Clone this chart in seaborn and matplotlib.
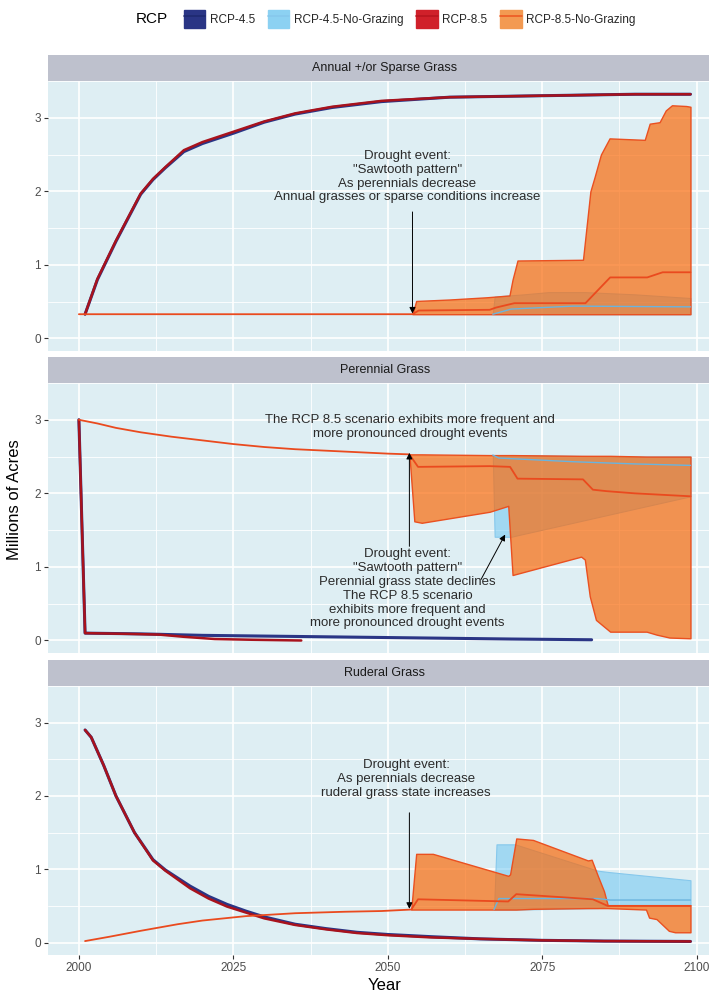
import numpy as np
import pandas as pd
import matplotlib
matplotlib.use('Agg')
import matplotlib.pyplot as plt
import seaborn as sns
from matplotlib.patches import Patch
from matplotlib.lines import Line2D
from matplotlib.ticker import MultipleLocator

# ---------------- data ----------------
# Panel 1: Annual +/or Sparse Grass
ANN_G_YEARS = [2001, 2003, 2006, 2008, 2010, 2012, 2014, 2017, 2020, 2025, 2030, 2035, 2041, 2049, 2060, 2075, 2090, 2099]
ANN_G85 = [0.33, 0.81, 1.33, 1.65, 1.97, 2.17, 2.33, 2.56, 2.67, 2.81, 2.95, 3.06, 3.15, 3.23, 3.28, 3.30, 3.32, 3.32]
ANN_G45 = [0.33, 0.80, 1.32, 1.64, 1.96, 2.16, 2.32, 2.54, 2.65, 2.79, 2.94, 3.05, 3.14, 3.22, 3.28, 3.30, 3.32, 3.32]
ANN_NG85_YEARS = [2000, 2054, 2055, 2066.5, 2067.5, 2070.5, 2082, 2086, 2092, 2094.5, 2099]
ANN_NG85 = [0.33, 0.33, 0.38, 0.39, 0.42, 0.48, 0.48, 0.83, 0.83, 0.90, 0.90]
ANN_NG85_RIB_YEARS = [2054, 2054.6, 2060, 2066, 2069.7, 2070.2, 2071, 2081.6, 2082.8, 2083.5, 2084.5,
                      2085.9, 2091.6, 2092.4, 2094, 2095, 2096, 2098.3, 2099]
ANN_NG85_LO = [0.33, 0.33, 0.33, 0.33, 0.33, 0.33, 0.33, 0.33, 0.33, 0.33, 0.33,
               0.33, 0.33, 0.33, 0.33, 0.33, 0.33, 0.33, 0.33]
ANN_NG85_HI = [0.33, 0.51, 0.53, 0.56, 0.585, 0.80, 1.06, 1.07, 2.00, 2.20, 2.50,
               2.72, 2.70, 2.92, 2.94, 3.10, 3.17, 3.16, 3.15]
ANN_NG45_YEARS = [2067, 2070, 2080, 2099]
ANN_NG45 = [0.33, 0.40, 0.44, 0.43]
ANN_NG45_RIB_YEARS = [2067, 2067.3, 2072, 2076, 2082, 2090, 2099]
ANN_NG45_LO = [0.33, 0.33, 0.33, 0.33, 0.33, 0.33, 0.33]
ANN_NG45_HI = [0.33, 0.57, 0.60, 0.63, 0.63, 0.60, 0.55]

# Panel 2: Perennial Grass
PER_G85_YEARS = [2000, 2001, 2008, 2013, 2017, 2022, 2028, 2036]
PER_G85 = [3.0, 0.10, 0.09, 0.08, 0.05, 0.02, 0.01, 0.0]
PER_G45_YEARS = [2000, 2001, 2010, 2020, 2030, 2040, 2050, 2060, 2070, 2083]
PER_G45 = [3.0, 0.10, 0.09, 0.07, 0.06, 0.05, 0.04, 0.03, 0.02, 0.01]
PER_NG85_YEARS = [2000, 2003, 2006, 2010, 2015, 2020, 2025, 2030, 2035, 2040, 2045, 2050, 2053.5,
                  2054.9, 2066.5, 2069.8, 2071, 2081.6, 2083.2, 2085.4, 2090, 2099]
PER_NG85 = [3.0, 2.95, 2.89, 2.83, 2.77, 2.72, 2.67, 2.63, 2.60, 2.58, 2.56, 2.54, 2.53,
            2.36, 2.37, 2.36, 2.20, 2.19, 2.05, 2.03, 2.00, 1.96]
PER_NG85_RIB_YEARS = [2053.5, 2054.3, 2055.5, 2066.5, 2069.5, 2070.2, 2081.3, 2081.9, 2082.7,
                      2083.7, 2086, 2091.9, 2093.5, 2095.6, 2099]
PER_NG85_LO = [2.53, 1.62, 1.60, 1.75, 1.83, 0.89, 1.14, 1.10, 0.60, 0.28, 0.12, 0.12, 0.08, 0.04, 0.03]
PER_NG85_HI = [2.53, 2.53, 2.53, 2.52, 2.52, 2.52, 2.51, 2.51, 2.51, 2.51, 2.51, 2.50, 2.50, 2.50, 2.50]
PER_NG45_YEARS = [2067, 2068, 2080, 2090, 2099]
PER_NG45 = [2.52, 2.48, 2.43, 2.40, 2.38]
PER_NG45_RIB_YEARS = [2067, 2067.3, 2070, 2071, 2080, 2090, 2099]
PER_NG45_LO = [2.52, 1.41, 1.41, 1.43, 1.60, 1.79, 1.96]
PER_NG45_HI = [2.52, 2.52, 2.52, 2.52, 2.51, 2.50, 2.50]

# Panel 3: Ruderal Grass
RUD_G_YEARS = [2001, 2002, 2004, 2006, 2009, 2012, 2014, 2016, 2018, 2021, 2024, 2027, 2030,
               2035, 2040, 2045, 2050, 2057, 2065, 2075, 2085, 2099]
RUD_G85 = [2.90, 2.80, 2.42, 2.00, 1.50, 1.12, 0.98, 0.86, 0.74, 0.60, 0.49, 0.41, 0.33,
           0.24, 0.18, 0.13, 0.10, 0.07, 0.05, 0.03, 0.02, 0.015]
RUD_G45 = [2.90, 2.80, 2.42, 2.00, 1.50, 1.13, 0.99, 0.88, 0.77, 0.63, 0.52, 0.43, 0.35,
           0.25, 0.19, 0.14, 0.11, 0.08, 0.05, 0.03, 0.02, 0.015]
RUD_NG85_YEARS = [2001, 2005, 2010, 2016, 2020, 2027, 2035, 2043, 2049, 2053.8, 2054.9,
                  2069.5, 2070.8, 2083.2, 2085.6, 2099]
RUD_NG85 = [0.02, 0.08, 0.16, 0.25, 0.30, 0.36, 0.40, 0.42, 0.43, 0.45, 0.59,
            0.56, 0.66, 0.59, 0.50, 0.50]
RUD_NG85_RIB_YEARS = [2053.8, 2054.6, 2057.3, 2069.5, 2069.8, 2070.8, 2073.5, 2082.4, 2083.0,
                      2084.0, 2085.0, 2085.6, 2091.8, 2092.3, 2093.5, 2095.5, 2096.5, 2099]
RUD_NG85_LO = [0.45, 0.45, 0.45, 0.45, 0.45, 0.45, 0.46, 0.47, 0.47,
               0.47, 0.47, 0.47, 0.45, 0.34, 0.32, 0.16, 0.14, 0.14]
RUD_NG85_HI = [0.45, 1.21, 1.21, 0.91, 0.93, 1.42, 1.40, 1.12, 1.13,
               0.91, 0.70, 0.51, 0.51, 0.51, 0.51, 0.51, 0.51, 0.51]
RUD_NG45_YEARS = [2067.2, 2068, 2084, 2086, 2099]
RUD_NG45 = [0.45, 0.60, 0.60, 0.58, 0.58]
RUD_NG45_RIB_YEARS = [2067.2, 2067.6, 2070.6, 2084, 2086, 2099]
RUD_NG45_LO = [0.45, 0.45, 0.45, 0.47, 0.51, 0.51]
RUD_NG45_HI = [0.45, 1.34, 1.34, 0.98, 0.96, 0.85]

PANEL_TITLES = ['Annual +/or Sparse Grass', 'Perennial Grass', 'Ruderal Grass']
LEGEND_LABELS = ['RCP-4.5', 'RCP-4.5-No-Grazing', 'RCP-8.5', 'RCP-8.5-No-Grazing']
X_TICKS = [2000, 2025, 2050, 2075, 2100]
Y_TICKS = [0, 1, 2, 3]

# ---------------- style ----------------
sns.set_theme(style='darkgrid', rc={'axes.facecolor': '#DEEEF3', 'grid.color': 'white',
                                    'figure.facecolor': 'white'})
plt.rcParams['font.family'] = ['Liberation Sans', 'DejaVu Sans']

C45 = '#2A3585'
C85 = '#A8121C'
NG45_FILL = (0.40, 0.77, 0.95, 0.5)
NG45_EDGE = '#86C8EC'
NG45_LINE = '#6AB4DE'
NG85_FILL = (0.98, 0.42, 0.05, 0.7)
NG85_EDGE = '#EA5020'
NG85_LINE = '#EA4A1E'
TEXT_COL = '#2B2B2B'

panels = [
    dict(g45=(ANN_G_YEARS, ANN_G45), g85=(ANN_G_YEARS, ANN_G85),
         ng45=(ANN_NG45_YEARS, ANN_NG45), ng85=(ANN_NG85_YEARS, ANN_NG85),
         r45=(ANN_NG45_RIB_YEARS, ANN_NG45_LO, ANN_NG45_HI),
         r85=(ANN_NG85_RIB_YEARS, ANN_NG85_LO, ANN_NG85_HI)),
    dict(g45=(PER_G45_YEARS, PER_G45), g85=(PER_G85_YEARS, PER_G85),
         ng45=(PER_NG45_YEARS, PER_NG45), ng85=(PER_NG85_YEARS, PER_NG85),
         r45=(PER_NG45_RIB_YEARS, PER_NG45_LO, PER_NG45_HI),
         r85=(PER_NG85_RIB_YEARS, PER_NG85_LO, PER_NG85_HI)),
    dict(g45=(RUD_G_YEARS, RUD_G45), g85=(RUD_G_YEARS, RUD_G85),
         ng45=(RUD_NG45_YEARS, RUD_NG45), ng85=(RUD_NG85_YEARS, RUD_NG85),
         r45=(RUD_NG45_RIB_YEARS, RUD_NG45_LO, RUD_NG45_HI),
         r85=(RUD_NG85_RIB_YEARS, RUD_NG85_LO, RUD_NG85_HI)),
]

W, H = 709, 994
fig = plt.figure(figsize=(W / 100, H / 100), dpi=100)

left = 48 / W
width = 1 - left
panel_px = [(81, 351), (383, 653), (686, 955)]
strip_h = 26
# the original panels run a little past the cropped right edge
centre = (385 - 48) / (W - 48)

axes = []
for i, (top, bot) in enumerate(panel_px):
    ax = fig.add_axes([left, 1 - bot / H, width, (bot - top) / H])
    st = fig.add_axes([left, 1 - top / H, width, strip_h / H])
    st.set_facecolor('#BEC1CD')
    st.set_xticks([]); st.set_yticks([]); st.grid(False)
    for s in st.spines.values():
        s.set_visible(False)
    st.text(centre, 0.5, PANEL_TITLES[i], ha='center', va='center', fontsize=9,
            color='#1A1A1A', transform=st.transAxes)

    p = panels[i]
    sns.lineplot(x=p['g45'][0], y=p['g45'][1], color=C45, linewidth=2.2, ax=ax)
    sns.lineplot(x=p['g85'][0], y=p['g85'][1], color=C85, linewidth=1.8, ax=ax)
    sns.lineplot(x=p['ng45'][0], y=p['ng45'][1], color=NG45_LINE, linewidth=1.0, ax=ax)
    yrs, lo, hi = p['r45']
    ax.fill_between(yrs, lo, hi, facecolor=NG45_FILL, edgecolor=NG45_EDGE, linewidth=0.8)
    yrs, lo, hi = p['r85']
    ax.fill_between(yrs, lo, hi, facecolor=NG85_FILL, edgecolor=NG85_EDGE, linewidth=1.0)
    sns.lineplot(x=p['ng85'][0], y=p['ng85'][1], color=NG85_LINE, linewidth=1.3, ax=ax)

    ax.set_xlim(1995, 2102)
    ax.set_ylim(-0.17, 3.5)
    ax.set_xticks(X_TICKS)
    ax.set_yticks(Y_TICKS)
    ax.xaxis.set_minor_locator(MultipleLocator(12.5))
    ax.yaxis.set_minor_locator(MultipleLocator(0.5))
    ax.grid(which='major', color='white', linewidth=1.2)
    ax.grid(which='minor', color='white', linewidth=0.6)
    ax.tick_params(which='minor', length=0)
    ax.tick_params(which='major', length=3, width=0.8, color='#333333',
                   labelsize=8.5, labelcolor='#4D4D4D', pad=2)
    ax.tick_params(axis='x', bottom=True)
    ax.tick_params(axis='y', left=True)
    for s in ax.spines.values():
        s.set_visible(False)
    ax.set_xlabel('')
    ax.set_ylabel('')
    if i < 2:
        ax.tick_params(axis='x', bottom=False, labelbottom=False)
    axes.append(ax)

arrow = dict(arrowstyle='-|>', color='black', lw=0.7, mutation_scale=9, shrinkA=0, shrinkB=0)
tkw = dict(ha='center', va='center', fontsize=9.5, color=TEXT_COL, linespacing=1.2)

ax1, ax2, ax3 = axes
ax1.text(2053.2, 2.2, 'Drought event:\n"Sawtooth pattern"\nAs perennials decrease\n'
         'Annual grasses or sparse conditions increase', **tkw)
ax1.annotate('', xy=(2054, 0.34), xytext=(2054, 1.72), arrowprops=arrow)

ax2.text(2053.6, 2.9, 'The RCP 8.5 scenario exhibits more frequent and\n'
         'more pronounced drought events', **tkw)
ax2.text(2053.2, 0.70, 'Drought event:\n"Sawtooth pattern"\nPerennial grass state declines\n'
         'The RCP 8.5 scenario\nexhibits more frequent and\nmore pronounced drought events', **tkw)
ax2.annotate('', xy=(2053.5, 2.55), xytext=(2053.5, 1.28), arrowprops=arrow)
ax2.annotate('', xy=(2069.0, 1.44), xytext=(2065.1, 0.83), arrowprops=arrow)

ax3.text(2053.0, 2.23, 'Drought event:\nAs perennials decrease\nruderal grass state increases', **tkw)
ax3.annotate('', xy=(2053.5, 0.46), xytext=(2053.5, 1.77), arrowprops=arrow)

fig.text(385 / W, 1 - 986 / H, 'Year', ha='center', va='center', fontsize=12, color='black')
fig.text(15 / W, 1 - 500 / H, 'Millions of Acres', rotation=90, ha='center', va='center',
         fontsize=12, color='black')

# legend
fills = [C45, (0.55, 0.82, 0.95), '#D0202A', '#F39A52']
lines = ['#1F2A70', '#86C8EC', '#B8141E', '#EE5A24']
handles = [(Patch(facecolor=f, edgecolor=f), Line2D([], [], color=l, lw=1.2))
           for f, l in zip(fills, lines)]
fig.legend(handles, LEGEND_LABELS, ncol=4, loc='center left', bbox_to_anchor=(179 / W, 1 - 19 / H),
           frameon=False, fontsize=8.5, handlelength=1.8, handleheight=2.0,
           handletextpad=0.4, columnspacing=1.1, borderaxespad=0)
fig.text(168 / W, 1 - 19 / H, 'RCP', ha='right', va='center', fontsize=11, color='black')

fig.savefig('out.png', dpi=100)
